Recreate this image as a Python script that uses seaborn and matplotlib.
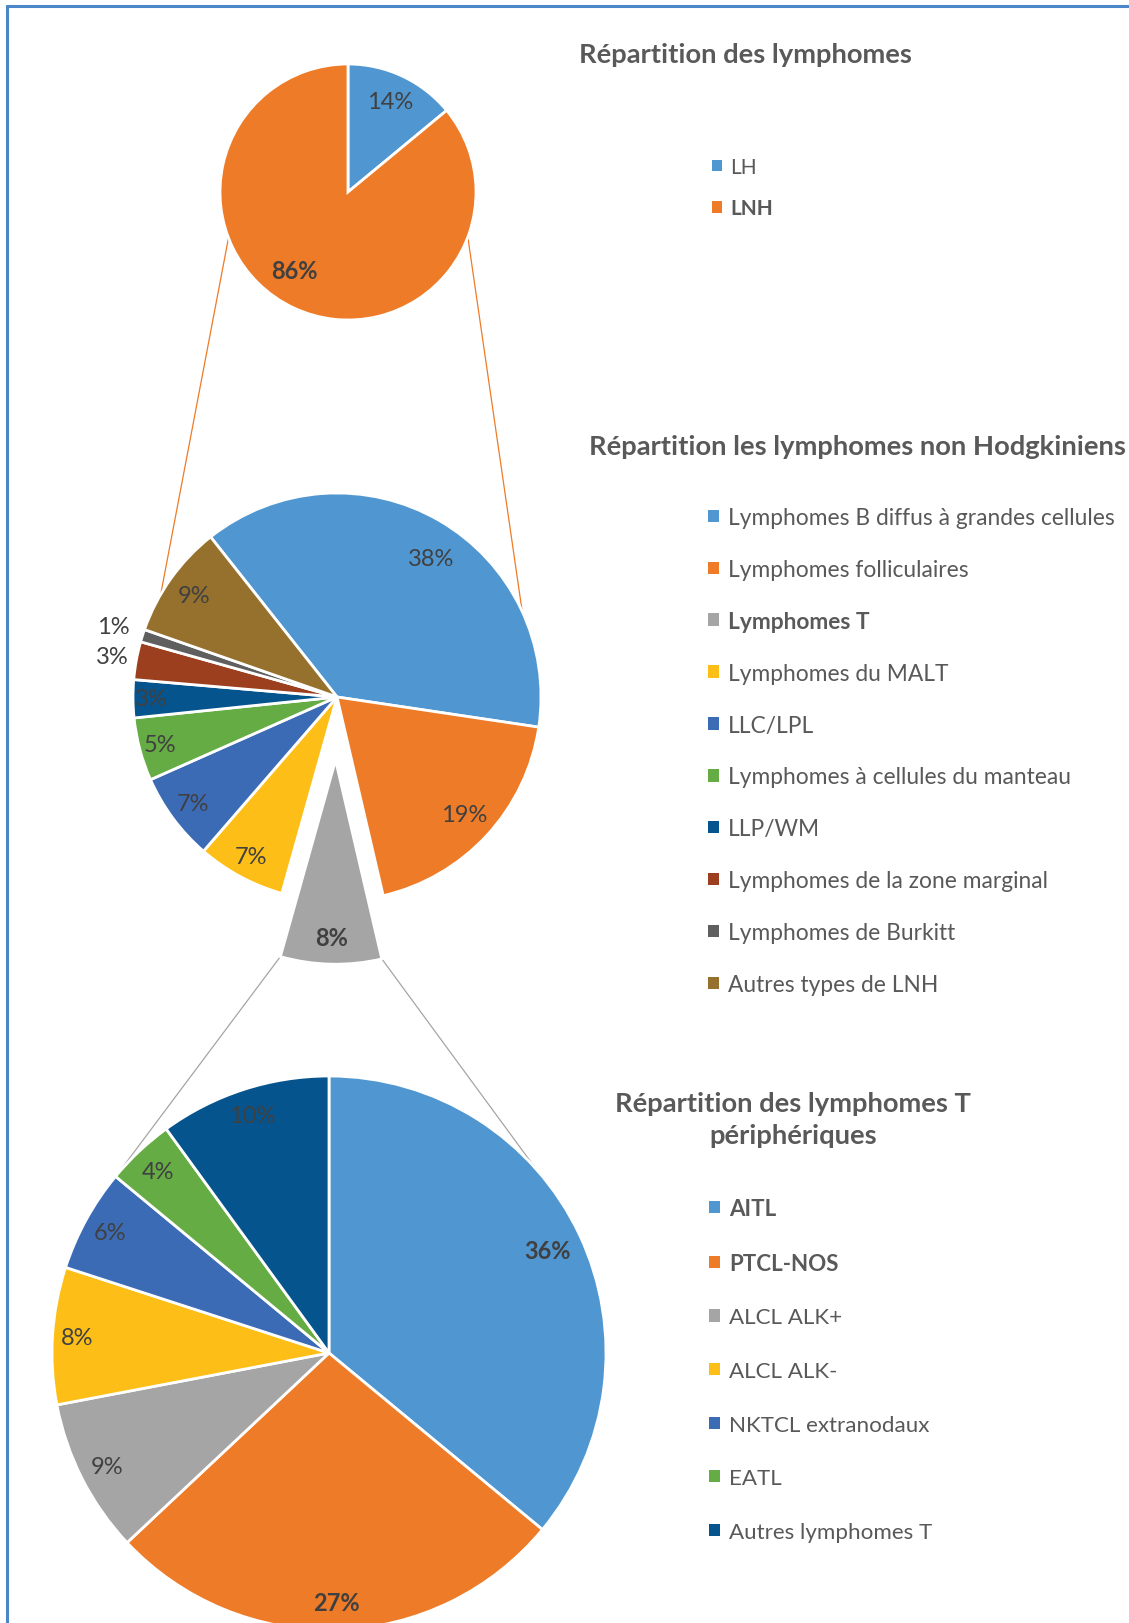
import numpy as np
import matplotlib
matplotlib.use("Agg")
import matplotlib.pyplot as plt
import seaborn as sns
from matplotlib.patches import ConnectionPatch
from matplotlib.lines import Line2D

# ---------------- data ----------------
top_title = "Répartition des lymphomes"
top_categories = ["LH", "LNH"]
top_values = [14, 86]

lnh_title = "Répartition les lymphomes non Hodgkiniens"
lnh_categories = [
    "Lymphomes B diffus à grandes cellules",
    "Lymphomes folliculaires",
    "Lymphomes T",
    "Lymphomes du MALT",
    "LLC/LPL",
    "Lymphomes à cellules du manteau",
    "LLP/WM",
    "Lymphomes de la zone marginal",
    "Lymphomes de Burkitt",
    "Autres types de LNH",
]
lnh_values = [38, 19, 8, 7, 7, 5, 3, 3, 1, 9]

t_title = "Répartition des lymphomes T\npériphériques"
t_categories = ["AITL", "PTCL-NOS", "ALCL ALK+", "ALCL ALK-",
                "NKTCL extranodaux", "EATL", "Autres lymphomes T"]
t_values = [36, 27, 9, 8, 6, 4, 10]

# ---------------- style ----------------
sns.set_theme(style="white")
plt.rcParams['font.family'] = ['Lato', 'DejaVu Sans']

office = sns.color_palette(["#5097D1", "#EE7B27", "#A5A5A5", "#FDBF17", "#3C6BB6",
                            "#66AC44", "#06548E", "#9B3F1E", "#5F5F5F", "#96712D"])
TXT = "#595959"
LBL = "#404040"
PCT_FS = 17

W, H = 1129, 1624
fig = plt.figure(figsize=(W / 100, H / 100), dpi=100)
fig.patch.set_facecolor("white")


def pie_axes(cx, cy, r, half=1.4):
    R = r * half
    ax = fig.add_axes([(cx - R) / W, 1 - (cy + R) / H, 2 * R / W, 2 * R / H])
    return ax, half


def finish(ax, half):
    ax.set_xlim(-half, half)
    ax.set_ylim(-half, half)
    ax.set_aspect("equal")
    ax.axis("off")


def add_labels(ax, wedges, values, dists, bold_idx, dangles=None, fs=PCT_FS):
    dangles = dangles or {}
    for i, (w, v) in enumerate(zip(wedges, values)):
        ang = np.deg2rad((w.theta1 + w.theta2) / 2 + dangles.get(i, 0))
        cx, cy = w.center
        d = dists[i] if np.ndim(dists) else dists
        ax.text(cx + d * w.r * np.cos(ang), cy + d * w.r * np.sin(ang), f"{v}%",
                ha="center", va="center", fontsize=fs, color=LBL,
                fontweight="bold" if i in bold_idx else "normal")


wp = dict(edgecolor="white", linewidth=2)

# ---- top pie ----
ax1, h1 = pie_axes(348, 193, 128)
w1, _ = ax1.pie(top_values, colors=office[:2], startangle=90, counterclock=False,
                wedgeprops=wp)
finish(ax1, h1)
add_labels(ax1, w1, top_values, [0.78, 0.74], bold_idx={1}, dangles={1: -9})

# ---- middle pie ----
ax2, h2 = pie_axes(337, 698, 204)
explode = [0, 0, 0.31, 0, 0, 0, 0, 0, 0, 0]
w2, _ = ax2.pie(lnh_values, colors=office[:10], startangle=128.3, counterclock=False,
                explode=explode, wedgeprops=wp)
finish(ax2, h2)
add_labels(ax2, w2, lnh_values,
           [0.82, 0.85, 0.87, 0.89, 0.88, 0.9, 0.91, 1.12, 1.15, 0.86],
           bold_idx={2}, dangles={0: -4})

# ---- bottom pie ----
ax3, h3 = pie_axes(329, 1354, 277)
w3, _ = ax3.pie(t_values, colors=office[:7],
                startangle=90, counterclock=False, wedgeprops=wp)
finish(ax3, h3)
add_labels(ax3, w3, t_values, [0.87, 0.9, 0.9, 0.91, 0.9, 0.9, 0.9], bold_idx={0, 1})


def pt(angle_deg, r=1.0, center=(0, 0)):
    a = np.deg2rad(angle_deg)
    return (center[0] + r * np.cos(a), center[1] + r * np.sin(a))


# ---- connector lines ----
for a_top, a_mid in [(201, 149.8), (339.4, 24.8)]:
    con = ConnectionPatch(xyA=pt(a_top), coordsA=ax1.transData,
                          xyB=pt(a_mid), coordsB=ax2.transData,
                          color=office[1], lw=0.9, zorder=0)
    fig.add_artist(con)

gw = w2[2]
for a_g, a_bot in [(gw.theta1, 139.6), (gw.theta2, 41.7)]:
    con = ConnectionPatch(xyA=pt(a_g, gw.r, gw.center), coordsA=ax2.transData,
                          xyB=pt(a_bot), coordsB=ax3.transData,
                          color="#A5A5A5", lw=0.9, zorder=0)
    fig.add_artist(con)

# ---- titles ----
TITLE_FS = 19.7
fig.text(745 / W, 1 - 55 / H, top_title, ha="center", va="center",
         fontsize=TITLE_FS, fontweight="bold", color=TXT)
fig.text(857 / W, 1 - 447 / H, lnh_title, ha="center", va="center",
         fontsize=TITLE_FS, fontweight="bold", color=TXT)
fig.text(793 / W, 1 - 1120 / H, t_title, ha="center", va="center",
         fontsize=TITLE_FS, fontweight="bold", color=TXT, linespacing=1.45)


# ---- legends ----
def make_legend(wedges, labels, x_px, y_top_px, fs, spacing, bold_idx):
    leg = fig.legend(wedges, labels, loc="upper left",
                     bbox_to_anchor=(x_px / W, 1 - y_top_px / H),
                     bbox_transform=fig.transFigure, frameon=False, fontsize=fs,
                     handlelength=0.47, handleheight=0.47, handletextpad=0.42,
                     labelspacing=spacing, borderpad=0, borderaxespad=0,
                     labelcolor=TXT)
    for i, t in enumerate(leg.get_texts()):
        if i in bold_idx:
            t.set_fontweight("bold")
    for hnd in leg.legend_handles:
        hnd.set_edgecolor("none")
    return leg


make_legend(w1, top_categories, 712, 158, 15, 1.03, {1})
make_legend(w2, lnh_categories, 708, 508, 16.4, 1.356, {2})
make_legend(w3, t_categories, 709, 1199, 16.1, 1.505, {0, 1})

# ---- border ----
fig.add_artist(Line2D([7 / W, 7 / W], [0, 1 - 7 / H], transform=fig.transFigure,
                      color="#4A86C8", lw=2.2))
fig.add_artist(Line2D([7 / W, 1], [1 - 7 / H, 1 - 7 / H], transform=fig.transFigure,
                      color="#4A86C8", lw=2.2))

fig.savefig("out.png", dpi=100, facecolor="white")
